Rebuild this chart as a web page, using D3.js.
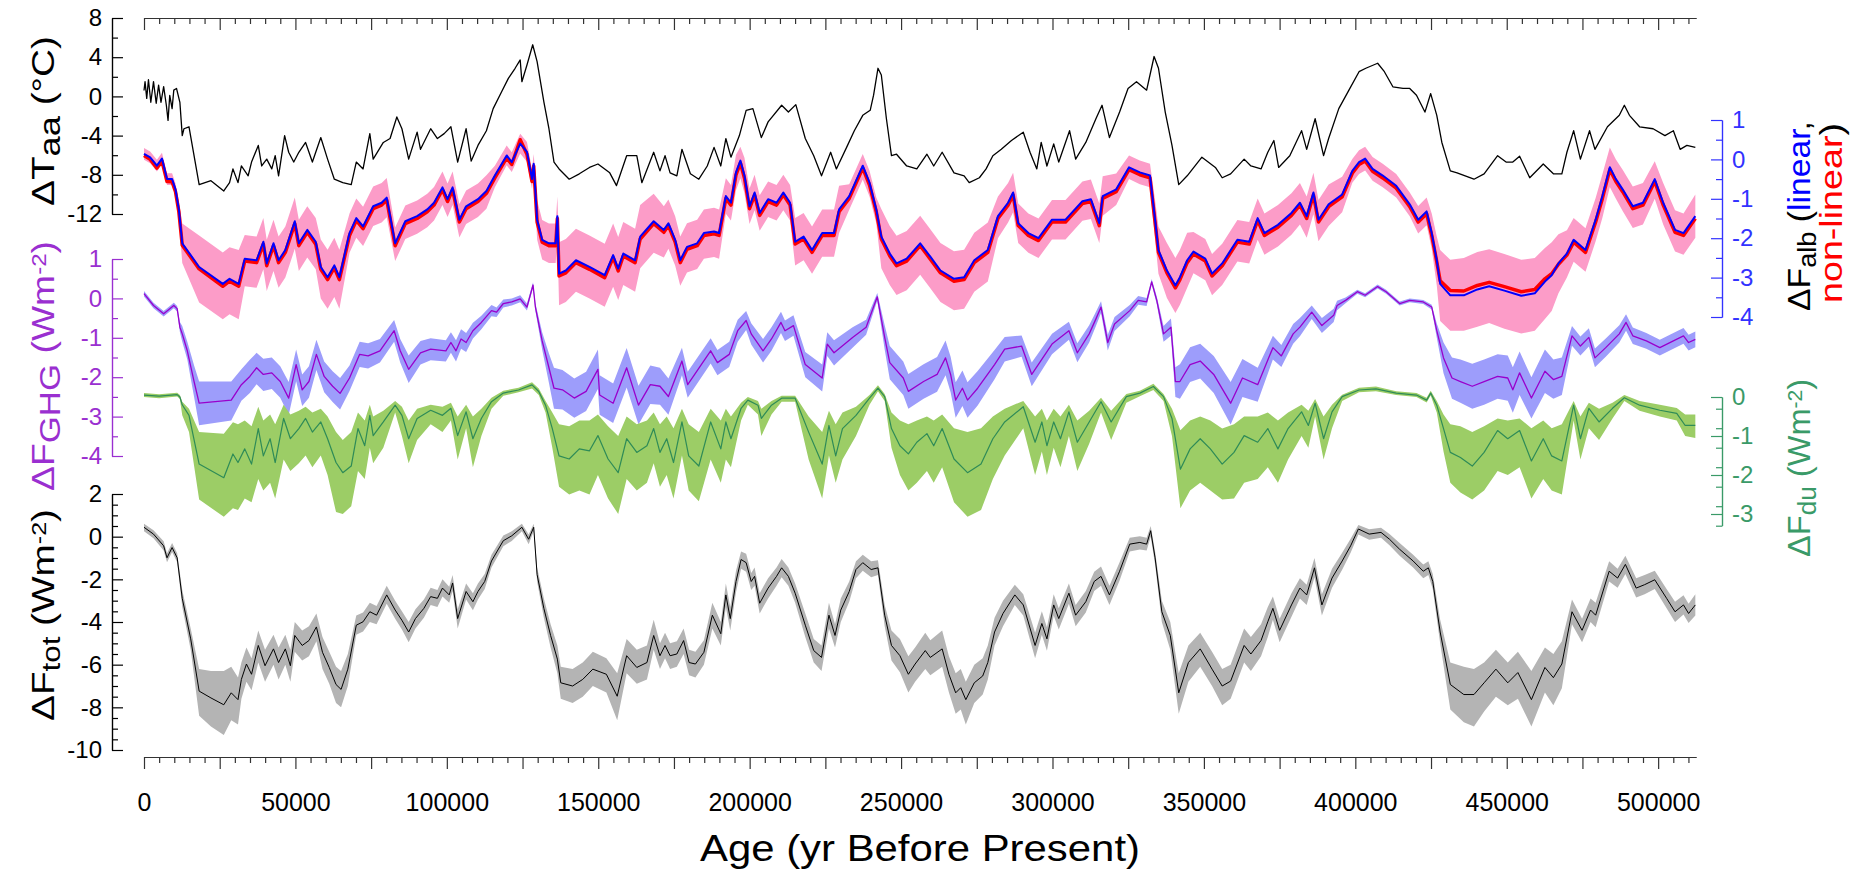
<!DOCTYPE html>
<html>
<head>
<meta charset="utf-8">
<script src="https://cdn.jsdelivr.net/npm/d3@7"></script>
<style>
  body { margin: 0; background: #fff; }
  svg { display: block; }
</style>
</head>
<body>
<svg id="chart" width="1862" height="870"></svg>
<script>
'use strict';

// Antarctic temperature anomaly (deg C), [age yr BP, value]
const tempAa = [
  [0,0.6],[350,1.5],[900,-0.2],[1470,1.7],[2250,-0.6],[3140,1.5],[4030,-0.7],[4820,1.15],[5600,-0.6],[6490,1.0],
  [7380,-0.9],[7940,-2.45],[8500,0.1],[9280,-1.25],[9840,0.64],[10730,0.81],[11850,-0.6],[12630,-4.0],[13190,-3.3],[14860,-3.1],
  [18210,-9.0],[22110,-8.6],[26350,-9.65],[28250,-8.8],[29370,-7.4],[31040,-8.8],[32160,-7.1],[34390,-8.1],[35510,-6.7],[37740,-5.0],
  [38860,-7.1],[40530,-6.4],[42200,-7.4],[43320,-6.05],[44440,-8.1],[46440,-4.0],[47780,-5.7],[49450,-6.7],[51130,-5.7],[53360,-4.7],
  [55600,-6.7],[58380,-4.2],[60620,-6.4],[62850,-8.45],[65640,-8.8],[68430,-9.0],[70100,-6.7],[72340,-7.4],[74570,-3.8],[75680,-6.4],
  [79030,-4.7],[81260,-4.3],[83490,-2.1],[85170,-3.3],[87400,-6.4],[90190,-3.65],[91310,-5.4],[94660,-3.3],[96890,-4.3],[99120,-3.8],
  [101350,-3.1],[103580,-6.7],[106370,-3.3],[108050,-6.6],[110280,-5.0],[113070,-3.5],[115300,-1.25],[118090,0.47],[120320,1.84],[122550,2.87],
  [124230,3.72],[124790,1.5],[126460,3.2],[128360,5.27],[129810,3.55],[132040,-0.56],[133720,-3.3],[135390,-6.7],[137070,-7.4],[140410,-8.45],
  [143760,-7.9],[147110,-7.25],[149900,-6.9],[153800,-7.8],[156030,-9.1],[159380,-6.05],[162730,-6.05],[164400,-8.8],[168300,-5.7],[170380,-7.6],
  [172060,-6.05],[173730,-7.8],[175960,-8.1],[177640,-5.4],[180430,-7.9],[183220,-8.45],[186000,-7.1],[188240,-5.2],[190470,-7.1],[192140,-4.3],
  [193820,-6.2],[196610,-4.0],[198840,-1.42],[201070,-1.25],[203860,-4.2],[206090,-2.6],[210560,-0.9],[212790,-1.6],[215240,-0.84],[218370,-4.3],
  [221160,-6.05],[223730,-8.1],[226740,-5.7],[228640,-7.4],[232320,-5.0],[234560,-3.5],[237350,-1.93],[239800,-1.42],[240920,0.12],[242370,2.87],
  [243480,2.18],[245160,-2.28],[246830,-6.05],[248500,-5.9],[251850,-7.1],[255200,-7.4],[258540,-5.9],[260780,-7.1],[263570,-5.7],[267480,-7.8],
  [270820,-8.1],[272500,-8.8],[275850,-8.3],[278080,-7.4],[280310,-6.05],[283100,-5.4],[286450,-4.5],[290350,-3.65],[292580,-5.7],[294820,-7.4],
  [296270,-4.7],[298160,-7.1],[300400,-4.85],[302070,-6.7],[305640,-3.5],[307650,-6.4],[311000,-4.7],[314340,-2.28],[316360,-0.9],[318810,-4.2],
  [322160,-1.6],[324950,0.81],[327740,1.5],[331090,0.64],[333550,4.07],[335000,2.87],[337230,-1.6],[339460,-5.0],[341690,-9.0],[344480,-8.1],
  [349340,-6.2],[353800,-7.25],[356040,-8.3],[358830,-7.9],[363290,-6.4],[365520,-7.1],[368870,-7.4],[371100,-5.7],[373110,-4.5],[374680,-7.25],
  [378360,-6.05],[382260,-3.5],[383940,-5.4],[386730,-2.28],[389520,-6.05],[391190,-4.3],[394540,-1.25],[397890,0.64],[401230,2.52],[403470,2.87],
  [407370,3.38],[409600,2.52],[412400,0.98],[415740,0.81],[417970,0.81],[420200,0.12],[422990,-1.6],[424890,0.29],[426900,-1.93],[428580,-4.7],
  [431370,-7.6],[433600,-7.8],[439180,-8.45],[442530,-7.9],[446990,-6.05],[449780,-6.7],[452010,-6.7],[454250,-6.1],[457590,-8.3],[462060,-6.9],
  [465410,-7.9],[468200,-7.9],[469870,-5.7],[472100,-3.5],[474330,-6.4],[477350,-3.5],[479130,-5.4],[483260,-3.1],[487170,-1.93],[488840,-0.9],
  [490520,-1.93],[493870,-3.1],[498330,-3.3],[502240,-4.0],[505030,-3.5],[507260,-5.4],[509490,-5.0],[512280,-5.2]
];

// Albedo forcing (W m-2): [age, linear, non-linear, band low, band high]
const fAlb = [
  [0,0.14,0.1,-0.01,0.29],[2030,0.05,0.0,-0.1,0.2],[4260,-0.16,-0.22,-0.31,-0.01],[5930,0.02,-0.04,-0.13,0.17],[7600,-0.5,-0.56,-0.65,-0.35],
  [9280,-0.5,-0.57,-0.65,-0.35],[10400,-0.76,-0.82,-0.91,-0.61],[11510,-1.27,-1.33,-1.5,-1.05],[12630,-2.13,-2.18,-2.63,-1.63],[18210,-2.73,-2.78,-3.63,-1.93],
  [26020,-3.16,-3.22,-4.06,-2.36],[28250,-3.03,-3.09,-3.93,-2.23],[31270,-3.16,-3.22,-4.06,-2.3],[33270,-2.52,-2.58,-3.22,-1.92],[37180,-2.56,-2.62,-3.26,-1.96],
  [39410,-2.09,-2.15,-2.79,-1.49],[40530,-2.64,-2.7,-3.34,-2.04],[42760,-2.13,-2.19,-2.83,-1.53],[44440,-2.56,-2.62,-3.26,-1.96],[46670,-2.3,-2.36,-3.0,-1.7],
  [49790,-1.57,-1.63,-2.27,-0.97],[51130,-2.13,-2.19,-2.83,-1.53],[53920,-1.79,-1.85,-2.49,-1.19],[56710,-2.09,-2.15,-2.79,-1.49],[58380,-2.73,-2.79,-3.53,-2.03],
  [60620,-2.99,-3.05,-3.79,-2.29],[62850,-2.69,-2.75,-3.49,-1.99],[64520,-2.99,-3.05,-3.79,-2.29],[67870,-1.87,-1.93,-2.37,-1.37],[70100,-1.49,-1.55,-1.99,-0.99],
  [72340,-1.7,-1.76,-2.2,-1.2],[75680,-1.19,-1.25,-1.69,-0.69],[78470,-1.1,-1.16,-1.6,-0.6],[80150,-0.97,-1.03,-1.47,-0.47],[82940,-2.13,-2.19,-2.58,-1.73],
  [86290,-1.57,-1.63,-2.02,-1.17],[90190,-1.44,-1.5,-1.89,-1.04],[93540,-1.27,-1.33,-1.72,-0.87],[95770,-1.1,-1.16,-1.55,-0.7],[98560,-0.71,-0.77,-1.16,-0.31],
  [100240,-1.01,-1.07,-1.46,-0.61],[101910,-0.71,-0.77,-1.16,-0.31],[104140,-1.53,-1.59,-1.98,-1.13],[106370,-1.19,-1.25,-1.64,-0.79],[110280,-1.01,-1.07,-1.46,-0.61],
  [113070,-0.8,-0.86,-1.25,-0.4],[115860,-0.41,-0.47,-0.71,-0.16],[119770,0.1,0.04,-0.15,0.35],[121440,-0.07,-0.13,-0.32,0.18],[124230,0.4,0.5,0.15,0.65],
  [126460,0.19,0.13,-0.06,0.44],[128130,-0.5,-0.56,-0.75,-0.25],[128690,-0.11,-0.17,-0.36,0.14],[129810,-1.53,-1.59,-2.03,-1.03],[131480,-2.04,-2.1,-2.54,-1.54],
  [133720,-2.13,-2.19,-2.63,-1.63],[135950,-2.13,-2.19,-2.63,-1.63],[136500,-1.44,-1.5,-1.94,-0.94],[137060,-2.9,-2.96,-3.7,-2.1],[139290,-2.82,-2.88,-3.62,-2.02],
  [142640,-2.56,-2.62,-3.36,-1.76],[147110,-2.73,-2.79,-3.53,-1.93],[152130,-2.94,-3.0,-3.74,-2.14],[154920,-2.43,-2.49,-3.23,-1.63],[156590,-2.77,-2.83,-3.57,-1.97],
  [158270,-2.39,-2.45,-3.19,-1.59],[162170,-2.56,-2.62,-3.36,-1.76],[163850,-1.96,-2.02,-2.76,-1.16],[168310,-1.57,-1.63,-2.37,-0.87],[171660,-1.79,-1.85,-2.49,-1.19],
  [173170,-1.62,-1.68,-2.27,-1.02],[175400,-2.04,-2.1,-2.69,-1.44],[177080,-2.56,-2.62,-3.21,-1.96],[179310,-2.22,-2.28,-2.87,-1.62],[182660,-2.13,-2.19,-2.78,-1.53],
  [184890,-1.87,-1.93,-2.52,-1.27],[188240,-1.83,-1.89,-2.48,-1.23],[189910,-1.87,-1.93,-2.52,-1.27],[192140,-0.93,-0.99,-1.38,-0.48],[193820,-1.1,-1.16,-1.55,-0.65],
  [195490,-0.33,-0.39,-0.78,0.12],[196940,-0.03,-0.09,-0.48,0.32],[198280,-0.41,-0.47,-0.86,0.04],[199960,-1.19,-1.25,-1.64,-0.74],[201630,-0.84,-0.9,-1.29,-0.39],
  [203310,-1.36,-1.42,-1.81,-0.91],[206090,-1.01,-1.07,-1.46,-0.56],[208880,-1.1,-1.16,-1.55,-0.65],[211120,-0.84,-0.9,-1.29,-0.39],[213350,-1.1,-1.16,-1.55,-0.65],
  [215020,-2.09,-2.15,-2.69,-1.49],[217810,-1.96,-2.02,-2.56,-1.36],[220600,-2.3,-2.36,-2.9,-1.7],[223950,-1.87,-1.93,-2.47,-1.27],[227860,-1.87,-1.93,-2.47,-1.27],
  [229530,-1.27,-1.33,-1.87,-0.67],[232880,-0.93,-0.99,-1.28,-0.63],[237350,-0.16,-0.22,-0.51,0.14],[239580,-0.59,-0.65,-0.94,-0.29],[241810,-1.27,-1.33,-1.62,-0.97],
  [243480,-1.96,-2.02,-2.76,-1.26],[246270,-2.39,-2.45,-3.19,-1.69],[248500,-2.64,-2.7,-3.44,-1.94],[251850,-2.52,-2.58,-3.32,-1.82],[256310,-2.13,-2.19,-2.93,-1.43],
  [259660,-2.47,-2.53,-3.27,-1.77],[263010,-2.82,-2.88,-3.62,-2.12],[267480,-3.03,-3.09,-3.83,-2.33],[270820,-2.99,-3.05,-3.79,-2.29],[274170,-2.56,-2.62,-3.36,-1.86],
  [278640,-2.3,-2.36,-3.1,-1.6],[281990,-1.44,-1.5,-2.0,-0.94],[285330,-1.1,-1.16,-1.6,-0.6],[287000,-0.84,-0.9,-1.34,-0.34],[288680,-1.62,-1.68,-2.12,-1.12],
  [292030,-1.87,-1.93,-2.37,-1.37],[295380,-2.0,-2.06,-2.5,-1.5],[299840,-1.53,-1.59,-2.03,-1.03],[304300,-1.53,-1.59,-2.03,-1.03],[309880,-1.06,-1.12,-1.56,-0.56],
  [312670,-1.01,-1.07,-1.51,-0.51],[315460,-1.62,-1.68,-2.12,-1.12],[316580,-0.93,-0.99,-1.43,-0.43],[321040,-0.76,-0.82,-1.16,-0.36],[325280,-0.2,-0.26,-0.5,0.1],
  [328850,-0.33,-0.39,-0.63,-0.03],[332200,-0.41,-0.47,-0.71,-0.11],[333870,-1.53,-1.59,-2.03,-1.03],[334990,-2.3,-2.36,-2.9,-1.7],[337790,-2.82,-2.88,-3.52,-2.12],
  [340580,-3.2,-3.26,-3.9,-2.5],[342090,-2.99,-3.05,-3.69,-2.29],[344480,-2.56,-2.62,-3.26,-1.86],[346550,-2.34,-2.4,-2.89,-1.84],[350460,-2.52,-2.58,-3.07,-2.02],
  [352690,-2.9,-2.96,-3.45,-2.4],[356040,-2.64,-2.7,-3.19,-2.14],[361060,-2.04,-2.1,-2.59,-1.54],[364960,-2.09,-2.15,-2.64,-1.59],[367760,-1.49,-1.55,-2.04,-0.99],
  [369990,-1.87,-1.93,-2.42,-1.37],[374450,-1.66,-1.72,-2.21,-1.16],[378910,-1.36,-1.42,-1.91,-0.86],[381710,-1.1,-1.16,-1.65,-0.6],[383940,-1.44,-1.5,-1.99,-0.94],
  [386170,-0.84,-0.9,-1.39,-0.34],[387840,-1.53,-1.59,-2.08,-1.03],[391190,-1.14,-1.2,-1.69,-0.64],[395660,-0.89,-0.95,-1.34,-0.44],[399010,-0.29,-0.35,-0.59,0.01],
  [401230,-0.07,-0.13,-0.37,0.23],[403240,0.02,-0.04,-0.28,0.32],[405700,-0.24,-0.3,-0.54,0.06],[409050,-0.41,-0.47,-0.71,-0.11],[413510,-0.67,-0.73,-0.97,-0.37],
  [417970,-1.14,-1.2,-1.44,-0.84],[420770,-1.53,-1.59,-1.88,-1.18],[423550,-1.32,-1.38,-1.67,-0.97],[425230,-1.87,-1.93,-2.27,-1.37],[426900,-2.56,-2.6,-3.2,-1.96],
  [428020,-3.16,-3.08,-4.1,-2.3],[431370,-3.45,-3.33,-4.35,-2.55],[435830,-3.45,-3.34,-4.35,-2.5],[440300,-3.3,-3.2,-4.25,-2.35],[444200,-3.22,-3.12,-4.15,-2.28],
  [449220,-3.33,-3.23,-4.3,-2.4],[454800,-3.46,-3.36,-4.42,-2.55],[459260,-3.4,-3.3,-4.35,-2.5],[462610,-3.1,-3.03,-4.05,-2.25],[464840,-2.94,-2.9,-3.85,-2.1],
  [467080,-2.64,-2.66,-3.4,-1.9],[469870,-2.39,-2.43,-3.0,-1.8],[472100,-2.04,-2.1,-2.6,-1.49],[476010,-2.3,-2.36,-2.85,-1.75],[479360,-1.53,-1.59,-2.08,-0.98],
  [481590,-0.93,-0.99,-1.48,-0.38],[484040,-0.2,-0.26,-0.7,0.3],[486050,-0.5,-0.56,-1.0,0.0],[488280,-0.76,-0.82,-1.31,-0.26],[491630,-1.19,-1.25,-1.74,-0.69],
  [494980,-1.1,-1.16,-1.65,-0.6],[498880,-0.5,-0.56,-1.0,-0.05],[501670,-1.1,-1.16,-1.65,-0.6],[505580,-1.79,-1.85,-2.34,-1.29],[508370,-1.87,-1.93,-2.42,-1.37],
  [512280,-1.44,-1.5,-1.99,-0.89]
];

// Greenhouse gas forcing (W m-2): [age, mean, low, high]
const fGhg = [
  [0,0.12,0.05,0.19],[3140,-0.18,-0.25,-0.11],[6490,-0.39,-0.46,-0.32],[9840,-0.18,-0.25,-0.11],[10950,-0.26,-0.33,-0.19],
  [11850,-0.73,-0.85,-0.6],[12630,-0.9,-1.1,-0.7],[14300,-1.33,-1.55,-1.1],[16540,-2.11,-2.5,-1.7],[18210,-2.66,-3.22,-2.11],
  [28810,-2.58,-3.1,-2.11],[32160,-2.19,-2.6,-1.8],[34950,-1.98,-2.4,-1.56],[37180,-1.76,-2.18,-1.38],[39410,-1.93,-2.35,-1.53],
  [42200,-1.89,-2.3,-1.5],[44990,-2.11,-2.52,-1.72],[47780,-2.53,-2.96,-2.12],[50240,-1.68,-2.1,-1.3],[52240,-2.32,-2.73,-1.93],
  [54470,-2.11,-2.52,-1.72],[56930,-1.42,-1.82,-1.05],[59500,-1.98,-2.38,-1.6],[62290,-2.23,-2.63,-1.85],[64750,-2.41,-2.82,-2.02],
  [67870,-2.02,-2.35,-1.7],[71220,-1.42,-1.74,-1.1],[74010,-1.46,-1.78,-1.14],[77910,-1.33,-1.63,-1.03],[82600,-0.82,-1.1,-0.55],
  [84610,-1.33,-1.63,-1.03],[87400,-1.8,-2.15,-1.45],[91310,-1.38,-1.68,-1.08],[94660,-1.29,-1.57,-1.01],[99680,-1.33,-1.6,-1.06],
  [101350,-1.12,-1.38,-0.86],[103030,-1.33,-1.6,-1.06],[104700,-1.03,-1.28,-0.78],[106370,-1.12,-1.36,-0.88],[108610,-0.82,-1.02,-0.62],
  [111400,-0.61,-0.78,-0.44],[114750,-0.31,-0.45,-0.17],[116420,-0.35,-0.47,-0.23],[118650,-0.13,-0.23,-0.03],[121440,-0.09,-0.18,0.0],
  [124230,-0.01,-0.1,0.08],[126460,-0.22,-0.31,-0.13],[128470,0.34,0.27,0.41],[129250,-0.22,-0.32,-0.12],[131480,-1.08,-1.3,-0.86],
  [133720,-1.76,-2.15,-1.4],[135390,-2.28,-2.8,-1.76],[138180,-2.32,-2.82,-1.82],[142090,-2.53,-3.03,-2.03],[145990,-2.36,-2.86,-1.86],
  [149900,-1.8,-2.3,-1.3],[150460,-2.45,-2.95,-1.95],[154920,-2.66,-3.16,-2.16],[159380,-1.76,-2.26,-1.26],[163290,-2.71,-3.2,-2.22],
  [167200,-2.19,-2.68,-1.7],[170380,-2.23,-2.7,-1.76],[173170,-2.49,-2.95,-2.03],[177640,-1.59,-1.95,-1.25],[179540,-2.19,-2.52,-1.86],
  [187120,-1.33,-1.65,-1.01],[189360,-1.63,-1.95,-1.31],[193260,-1.42,-1.74,-1.1],[196050,-0.82,-1.1,-0.54],[198840,-0.56,-0.8,-0.32],
  [200520,-0.9,-1.17,-0.63],[204420,-1.33,-1.63,-1.03],[207210,-1.03,-1.33,-0.73],[210340,-0.61,-0.88,-0.34],[211670,-0.82,-1.08,-0.56],
  [214460,-0.69,-0.95,-0.43],[218370,-1.68,-2.0,-1.36],[223950,-2.02,-2.36,-1.68],[225630,-1.16,-1.46,-0.86],[227860,-1.38,-1.7,-1.06],
  [233990,-0.99,-1.25,-0.73],[238460,-0.73,-0.92,-0.54],[242140,0.04,-0.06,0.14],[244590,-0.99,-1.3,-0.68],[246270,-1.63,-2.05,-1.21],
  [250730,-2.02,-2.45,-1.6],[252410,-2.36,-2.8,-1.92],[257430,-2.11,-2.55,-1.67],[261890,-1.93,-2.37,-1.49],[264680,-1.51,-1.95,-1.07],
  [266360,-1.93,-2.38,-1.48],[268030,-2.58,-3.03,-2.13],[270260,-2.28,-2.73,-1.83],[271940,-2.58,-3.03,-2.13],[275290,-2.28,-2.72,-1.84],
  [280870,-1.68,-2.05,-1.31],[284220,-1.29,-1.6,-0.98],[289800,-1.21,-1.48,-0.94],[293150,-1.93,-2.23,-1.63],[299840,-1.16,-1.42,-0.9],
  [305420,-0.82,-1.05,-0.59],[308210,-1.38,-1.62,-1.14],[312120,-0.9,-1.12,-0.68],[314350,-0.52,-0.7,-0.34],[316030,-0.22,-0.37,-0.07],
  [318260,-1.12,-1.32,-0.92],[320490,-0.65,-0.83,-0.47],[325510,-0.31,-0.45,-0.17],[328300,-0.05,-0.16,0.06],[331080,-0.09,-0.19,0.01],
  [332760,0.42,0.35,0.49],[334440,-0.05,-0.15,0.05],[336670,-0.9,-1.1,-0.7],[339120,-0.73,-0.95,-0.51],[340580,-2.11,-2.5,-1.75],
  [342090,-2.11,-2.55,-1.67],[345440,-1.68,-2.12,-1.24],[348780,-1.59,-2.03,-1.15],[353250,-1.93,-2.4,-1.46],[358830,-2.66,-3.2,-2.12],
  [362730,-2.02,-2.5,-1.54],[367760,-2.19,-2.62,-1.76],[372780,-1.25,-1.55,-0.95],[375570,-1.46,-1.74,-1.18],[379470,-0.9,-1.15,-0.65],
  [381710,-0.73,-0.96,-0.5],[385610,-0.35,-0.52,-0.18],[388960,-0.69,-0.88,-0.5],[392860,-0.43,-0.6,-0.26],[393980,-0.18,-0.3,-0.06],
  [396770,-0.05,-0.12,0.02],[400680,0.17,0.12,0.22],[403240,0.08,0.03,0.13],[407370,0.3,0.25,0.35],[410160,0.17,0.12,0.22],
  [414630,-0.13,-0.18,-0.08],[417970,-0.05,-0.1,0.0],[422440,-0.09,-0.14,-0.04],[425230,-0.22,-0.28,-0.16],[426900,-0.82,-1.0,-0.64],
  [429130,-1.51,-1.9,-1.12],[431930,-2.02,-2.55,-1.5],[434710,-2.11,-2.65,-1.55],[438620,-2.23,-2.8,-1.66],[442530,-2.11,-2.7,-1.55],
  [446990,-1.98,-2.55,-1.42],[450340,-2.02,-2.6,-1.45],[452010,-2.32,-2.9,-1.75],[454250,-1.89,-2.45,-1.35],[458150,-2.53,-3.05,-2.0],
  [462610,-1.85,-2.4,-1.3],[465400,-2.06,-2.55,-1.55],[468200,-1.98,-2.45,-1.5],[471550,-0.95,-1.2,-0.7],[474330,-1.21,-1.45,-0.97],
  [477120,-0.99,-1.22,-0.76],[479130,-1.51,-1.75,-1.27],[482700,-1.25,-1.48,-1.02],[487170,-0.9,-1.12,-0.68],[489400,-0.61,-0.82,-0.4],
  [491630,-0.95,-1.16,-0.74],[496100,-1.08,-1.28,-0.88],[500560,-1.25,-1.45,-1.05],[505030,-1.08,-1.28,-0.88],[508370,-0.95,-1.15,-0.75],
  [510050,-1.12,-1.32,-0.92],[512280,-1.04,-1.24,-0.84]
];

// Dust forcing (W m-2): [age, mean, low, high]
const fDu = [
  [0,0.05,0.0,0.1],[5000,0.02,-0.03,0.07],[10950,0.06,0.01,0.11],[11850,0.0,-0.05,0.05],[12630,-0.2,-0.47,-0.12],
  [14860,-0.47,-0.9,-0.3],[18210,-1.72,-2.63,-0.9],[26350,-2.07,-3.07,-0.94],[29370,-1.46,-2.85,-0.65],[31040,-1.68,-2.9,-0.7],
  [33270,-1.33,-2.6,-0.6],[35510,-1.72,-2.7,-0.75],[37740,-0.81,-2.1,-0.25],[39410,-1.51,-2.4,-0.6],[41640,-1.07,-2.2,-0.45],
  [43320,-1.68,-2.6,-0.7],[46110,-0.55,-1.6,-0.2],[48340,-1.07,-1.9,-0.45],[51130,-0.81,-1.7,-0.35],[53360,-0.55,-1.5,-0.25],
  [55600,-0.9,-1.8,-0.4],[58380,-0.64,-1.5,-0.3],[60620,-1.07,-2.0,-0.5],[63410,-1.68,-2.95,-0.9],[65640,-1.94,-3.0,-1.1],
  [68430,-1.77,-2.8,-0.9],[70660,-0.81,-1.9,-0.4],[72890,-1.25,-2.1,-0.6],[74570,-0.47,-1.3,-0.2],[75680,-0.99,-1.7,-0.5],
  [79030,-0.64,-1.3,-0.35],[82940,-0.21,-0.4,-0.1],[85170,-0.47,-1.0,-0.25],[87400,-1.07,-1.7,-0.6],[90190,-0.55,-1.1,-0.3],
  [94660,-0.34,-0.7,-0.2],[98560,-0.47,-0.9,-0.25],[101350,-0.29,-0.6,-0.15],[103580,-0.99,-1.6,-0.5],[106370,-0.38,-0.8,-0.2],
  [108610,-1.07,-1.8,-0.5],[111400,-0.55,-1.0,-0.3],[114750,-0.12,-0.3,-0.02],[118650,0.1,0.03,0.16],[123670,0.18,0.12,0.24],
  [128130,0.31,0.22,0.38],[130360,0.14,0.05,0.22],[132600,-0.21,-0.4,-0.1],[134830,-0.81,-1.3,-0.4],[137060,-1.51,-2.3,-0.7],
  [140410,-1.59,-2.5,-0.75],[143760,-1.33,-2.4,-0.6],[147110,-1.38,-2.5,-0.6],[149900,-0.99,-2.0,-0.45],[153240,-1.59,-2.6,-0.75],
  [156590,-1.94,-3.0,-1.0],[159380,-1.07,-2.1,-0.5],[162730,-1.42,-2.4,-0.7],[166080,-1.25,-2.2,-0.6],[168310,-0.81,-1.7,-0.4],
  [170380,-1.42,-2.3,-0.7],[172610,-1.07,-2.0,-0.5],[174850,-1.68,-2.6,-0.8],[177640,-0.64,-1.5,-0.3],[179870,-1.51,-2.4,-0.7],
  [183220,-1.77,-2.67,-0.9],[187120,-0.64,-1.6,-0.3],[190470,-1.33,-2.2,-0.6],[192140,-0.64,-1.6,-0.3],[193820,-1.07,-1.8,-0.5],
  [197170,-0.29,-0.6,-0.15],[199400,-0.08,-0.2,0.0],[202750,-0.21,-0.45,-0.1],[203860,-0.55,-1.0,-0.3],[207210,-0.21,-0.45,-0.1],
  [210560,-0.03,-0.12,0.03],[215020,-0.03,-0.12,0.03],[219480,-0.9,-1.6,-0.5],[223950,-1.72,-2.6,-0.9],[226180,-0.73,-1.5,-0.35],
  [228410,-1.51,-2.2,-0.7],[230650,-0.81,-1.6,-0.4],[235110,-0.47,-1.0,-0.25],[239580,-0.03,-0.2,0.05],[242370,0.23,0.15,0.3],
  [244590,0.01,-0.1,0.08],[246830,-0.81,-1.3,-0.4],[249620,-1.25,-2.0,-0.6],[252410,-1.46,-2.4,-0.7],[255200,-1.16,-2.2,-0.6],
  [258540,-0.94,-1.9,-0.5],[260780,-1.25,-2.2,-0.6],[263570,-0.81,-1.8,-0.45],[267480,-1.59,-2.7,-0.8],[271940,-1.94,-3.07,-0.9],
  [276400,-1.72,-2.9,-0.8],[280310,-1.07,-2.1,-0.5],[284220,-0.64,-1.5,-0.3],[290350,-0.25,-0.8,-0.1],[294260,-1.16,-2.0,-0.5],
  [296490,-0.64,-1.4,-0.3],[298160,-1.25,-2.0,-0.6],[300400,-0.64,-1.3,-0.3],[302630,-1.07,-1.8,-0.5],[305420,-0.38,-1.0,-0.2],
  [308210,-1.16,-1.9,-0.6],[312120,-0.64,-1.2,-0.35],[316030,-0.12,-0.4,-0.02],[319370,-0.64,-1.1,-0.35],[324390,0.01,-0.15,0.08],
  [328850,0.1,0.02,0.16],[333320,0.27,0.18,0.34],[336670,0.01,-0.1,0.08],[339460,-0.55,-1.0,-0.3],[342240,-1.85,-2.85,-0.85],
  [345440,-1.33,-2.4,-0.6],[348780,-1.07,-2.2,-0.5],[352130,-1.33,-2.4,-0.6],[356040,-1.72,-2.63,-0.81],[359940,-1.42,-2.6,-0.7],
  [363290,-0.99,-2.2,-0.5],[367760,-1.16,-2.1,-0.5],[371100,-0.81,-1.8,-0.4],[374450,-1.33,-2.2,-0.6],[377800,-0.81,-1.6,-0.4],
  [382260,-0.38,-1.0,-0.2],[384490,-0.73,-1.3,-0.35],[386730,-0.16,-0.5,-0.05],[389520,-1.07,-1.6,-0.5],[392310,-0.38,-0.8,-0.2],
  [395660,0.01,-0.1,0.06],[401230,0.18,0.12,0.24],[406820,0.21,0.15,0.27],[413510,0.1,0.05,0.15],[420200,0.05,0.0,0.1],
  [423550,-0.08,-0.14,-0.02],[424890,0.1,0.04,0.16],[426900,-0.21,-0.4,-0.1],[429130,-0.81,-1.4,-0.45],[431370,-1.42,-2.2,-0.7],
  [434710,-1.55,-2.45,-0.75],[438620,-1.77,-2.63,-0.9],[442530,-1.42,-2.4,-0.75],[446990,-0.86,-1.9,-0.55],[450340,-1.07,-2.0,-0.6],
  [454250,-0.86,-1.8,-0.55],[458150,-1.64,-2.6,-0.8],[462060,-1.07,-2.1,-0.6],[464840,-1.51,-2.4,-0.8],[468200,-1.64,-2.5,-0.7],
  [472100,-0.21,-0.6,-0.1],[474330,-1.07,-1.6,-0.5],[477120,-0.29,-0.8,-0.15],[480480,-0.64,-1.1,-0.3],[484930,-0.29,-0.55,-0.15],
  [488840,-0.02,-0.1,0.05],[493870,-0.21,-0.35,-0.1],[500560,-0.34,-0.5,-0.2],[506140,-0.42,-0.6,-0.28],[508930,-0.73,-1.0,-0.45],
  [512280,-0.73,-1.05,-0.45]
];

// Total forcing (W m-2): [age, mean, low, high]
const fTot = [
  [0,0.44,0.25,0.6],[3140,0.12,-0.08,0.3],[6490,-0.43,-0.65,-0.22],[7600,-0.99,-1.2,-0.78],[9280,-0.51,-0.72,-0.3],
  [10950,-0.99,-1.2,-0.78],[12630,-2.89,-3.3,-2.5],[15420,-4.79,-5.3,-4.3],[18210,-7.24,-8.4,-6.2],[22110,-7.56,-8.9,-6.3],
  [26350,-7.88,-9.3,-6.3],[28810,-7.32,-8.6,-6.1],[31040,-7.64,-8.8,-6.6],[32160,-6.69,-7.6,-5.9],[33830,-5.97,-6.8,-5.2],
  [35510,-6.45,-7.2,-5.7],[37740,-5.1,-5.9,-4.4],[39970,-6.05,-6.8,-5.3],[42760,-5.26,-6.0,-4.6],[44440,-5.9,-6.7,-5.2],
  [46670,-5.26,-6.0,-4.6],[48340,-6.05,-6.8,-5.3],[49790,-4.63,-5.4,-4.0],[52240,-5.1,-5.8,-4.4],[54470,-4.87,-5.6,-4.2],
  [56930,-4.23,-4.9,-3.6],[58940,-5.42,-6.2,-4.7],[61170,-6.13,-6.9,-5.4],[63410,-6.93,-7.8,-6.1],[65080,-7.16,-8.0,-6.3],
  [67310,-6.21,-7.0,-5.5],[70100,-4.15,-4.6,-3.7],[72340,-3.99,-4.45,-3.55],[74570,-3.52,-4.0,-3.1],[76800,-3.68,-4.1,-3.25],
  [80150,-2.73,-3.15,-2.3],[82940,-3.44,-3.85,-3.0],[85170,-3.92,-4.35,-3.5],[87400,-4.47,-4.95,-4.0],[89630,-3.84,-4.3,-3.4],
  [92420,-3.36,-3.8,-2.95],[94660,-2.81,-3.2,-2.4],[96890,-2.89,-3.3,-2.5],[98560,-2.41,-2.8,-2.0],[100790,-2.73,-3.1,-2.35],
  [101910,-2.17,-2.55,-1.8],[103580,-3.84,-4.3,-3.4],[106370,-2.57,-2.95,-2.2],[108610,-3.05,-3.45,-2.65],[110280,-2.57,-2.95,-2.2],
  [112510,-2.1,-2.45,-1.75],[114750,-1.14,-1.45,-0.85],[118650,-0.19,-0.45,0.05],[121440,0.04,-0.2,0.25],[124790,0.44,0.25,0.6],
  [127020,-0.12,-0.35,0.1],[128690,0.44,0.25,0.6],[129810,-1.78,-2.1,-1.45],[132040,-3.36,-3.8,-2.9],[134270,-4.63,-5.2,-4.1],
  [136500,-5.74,-6.4,-5.1],[137620,-6.85,-7.6,-6.1],[141530,-7.0,-7.8,-6.2],[144880,-6.69,-7.5,-5.9],[148220,-6.21,-7.0,-5.4],
  [152690,-6.45,-7.3,-5.7],[156260,-7.48,-8.6,-6.4],[159380,-5.58,-6.4,-4.8],[162730,-6.13,-6.9,-5.3],[166080,-5.9,-6.7,-5.1],
  [168310,-4.63,-5.3,-3.9],[170380,-5.58,-6.2,-5.0],[172060,-5.1,-5.7,-4.5],[173730,-5.58,-6.2,-5.0],[175960,-5.5,-6.1,-4.9],
  [178190,-4.87,-5.5,-4.3],[180000,-5.9,-6.5,-5.3],[182100,-5.97,-6.6,-5.4],[184890,-5.42,-6.0,-4.85],[187680,-3.68,-4.3,-3.1],
  [190470,-4.55,-5.1,-4.0],[192140,-2.73,-3.3,-2.2],[193600,-3.84,-4.4,-3.3],[195490,-2.1,-2.6,-1.6],[197170,-1.07,-1.5,-0.7],
  [198840,-1.22,-1.65,-0.8],[200520,-2.1,-2.5,-1.7],[201630,-1.86,-2.3,-1.45],[203310,-3.12,-3.6,-2.65],[206090,-2.41,-2.9,-1.95],
  [208880,-1.86,-2.3,-1.45],[210560,-1.46,-1.9,-1.05],[212790,-1.86,-2.3,-1.45],[215020,-2.65,-3.1,-2.2],[218370,-4.15,-4.7,-3.6],
  [221160,-5.34,-5.9,-4.8],[223730,-5.66,-6.3,-5.1],[226180,-3.68,-4.3,-3.1],[228190,-4.63,-5.2,-4.1],[230090,-3.44,-4.0,-2.9],
  [232880,-2.57,-3.05,-2.1],[235110,-1.54,-1.95,-1.15],[237350,-1.22,-1.6,-0.85],[240130,-1.54,-1.9,-1.15],[242370,-1.46,-1.8,-1.1],
  [244590,-3.68,-4.2,-3.2],[246830,-5.1,-5.8,-4.4],[249620,-5.58,-6.35,-4.8],[252410,-6.45,-7.3,-5.6],[254640,-5.97,-6.8,-5.2],
  [257990,-5.34,-6.2,-4.5],[259660,-5.66,-6.5,-4.85],[263570,-5.26,-6.1,-4.4],[265800,-6.45,-7.3,-5.6],[268030,-7.32,-8.3,-6.4],
  [269710,-7.08,-8.1,-6.2],[271380,-7.64,-8.8,-6.8],[274170,-6.85,-7.8,-6.0],[276960,-6.53,-7.4,-5.7],[278640,-5.9,-6.7,-5.1],
  [280870,-4.47,-5.1,-3.8],[283660,-3.6,-4.2,-3.0],[287560,-2.73,-3.2,-2.25],[290350,-3.2,-3.7,-2.7],[294260,-5.1,-5.7,-4.5],
  [296490,-4.07,-4.6,-3.5],[298160,-4.79,-5.35,-4.25],[300400,-3.2,-3.7,-2.7],[302070,-3.84,-4.35,-3.35],[305420,-2.65,-3.15,-2.2],
  [307650,-3.68,-4.2,-3.2],[311000,-3.05,-3.55,-2.55],[313780,-2.1,-2.55,-1.65],[316020,-1.86,-2.3,-1.4],[318810,-2.73,-3.2,-2.3],
  [322160,-1.62,-2.05,-1.2],[325510,-0.35,-0.7,-0.05],[328850,-0.27,-0.6,0.02],[331090,-0.35,-0.65,-0.05],[332430,0.28,0.0,0.5],
  [333880,-0.99,-1.3,-0.7],[336110,-3.52,-4.0,-3.0],[338900,-4.63,-5.3,-4.0],[341690,-7.32,-8.3,-6.4],[344880,-5.9,-6.8,-5.1],
  [348780,-5.26,-6.1,-4.5],[352690,-6.21,-7.0,-5.4],[356040,-7.0,-7.9,-6.2],[358830,-6.77,-7.6,-6.0],[363290,-5.1,-5.9,-4.3],
  [365520,-5.5,-6.3,-4.7],[368870,-4.87,-5.6,-4.1],[371100,-3.99,-4.7,-3.3],[372780,-3.36,-3.9,-2.8],[375010,-4.39,-4.95,-3.85],
  [378920,-3.2,-3.75,-2.65],[381710,-2.41,-2.9,-1.95],[383940,-2.73,-3.2,-2.25],[386510,-1.46,-1.9,-1.0],[388960,-3.2,-3.7,-2.7],
  [392310,-1.94,-2.4,-1.5],[395660,-1.14,-1.55,-0.75],[398450,-0.43,-0.75,-0.1],[401010,0.36,0.1,0.55],[404580,0.12,-0.15,0.35],
  [408490,0.2,-0.05,0.42],[411280,-0.12,-0.4,0.12],[414630,-0.59,-0.9,-0.3],[419090,-1.14,-1.45,-0.85],[422440,-1.62,-1.95,-1.3],
  [424120,-1.46,-1.8,-1.15],[425570,-2.1,-2.45,-1.75],[428020,-4.47,-5.0,-3.9],[431370,-6.93,-8.1,-5.9],[435830,-7.4,-8.7,-6.1],
  [439180,-7.4,-8.9,-6.2],[442530,-6.85,-8.2,-5.9],[446430,-6.21,-7.5,-5.3],[450340,-6.85,-7.9,-5.9],[453690,-6.37,-7.6,-5.4],
  [458150,-7.64,-8.9,-6.3],[462610,-6.13,-7.3,-5.2],[465400,-6.61,-7.9,-5.5],[468200,-5.97,-7.1,-4.9],[471550,-3.52,-4.1,-2.95],
  [474880,-4.39,-4.95,-3.85],[477680,-3.44,-4.0,-2.9],[479360,-3.68,-4.25,-3.1],[483820,-1.62,-2.1,-1.15],[486610,-1.94,-2.4,-1.5],
  [489180,-1.3,-1.75,-0.9],[492750,-2.41,-2.85,-1.95],[495540,-2.25,-2.7,-1.8],[498880,-2.02,-2.45,-1.6],[502790,-2.89,-3.35,-2.45],
  [505580,-3.52,-4.0,-3.05],[508370,-3.2,-3.65,-2.75],[510050,-3.6,-4.05,-3.15],[512280,-3.2,-3.7,-2.7]
];

// axis ticks
const tempTicks = [8, 4, 0, -4, -8, -12];
const albTicks = [1, 0, -1, -2, -3, -4];
const ghgTicks = [1, 0, -1, -2, -3, -4];
const duTicks = [0, -1, -2, -3];
const totTicks = [2, 0, -2, -4, -6, -8, -10];
const ageMajor = d3.range(0, 512501, 25000);
const ageMinor = d3.range(0, 512501, 5000);

const FONT = '"Liberation Sans", Arial, Helvetica, sans-serif';
const PURPLE = '#9a2fd0';
const BLUE = '#3232ff';
const GREEN = '#3a9a68';

const svg = d3.select('#chart').attr('font-family', FONT);

const x = d3.scaleLinear().domain([0, 512500]).range([144, 1696]);
const yTemp = d3.scaleLinear().domain([8, -12]).range([18, 214]);
const yAlb = d3.scaleLinear().domain([1, -4]).range([120, 317]);
const yGhg = d3.scaleLinear().domain([1, -4]).range([259, 456]);
const yDu = d3.scaleLinear().domain([0, -3.3]).range([397, 525.7]);
const yTot = d3.scaleLinear().domain([2, -10]).range([494, 750]);

function band(data, y, lo, hi, fill) {
  const area = d3.area()
    .x(d => x(d[0]))
    .y0(d => y(d[lo]))
    .y1(d => y(d[hi]));
  svg.append('path').datum(data)
    .attr('d', area)
    .attr('fill', fill);
}

function trace(data, y, i, color, width) {
  const line = d3.line()
    .x(d => x(d[0]))
    .y(d => y(d[i]));
  svg.append('path').datum(data)
    .attr('d', line)
    .attr('fill', 'none')
    .attr('stroke', color)
    .attr('stroke-width', width)
    .attr('stroke-linejoin', 'round');
}

// bands first, then the lines on top
band(fAlb, yAlb, 3, 4, '#fc9cc8');
band(fGhg, yGhg, 2, 3, '#9d9dfb');
band(fDu, yDu, 2, 3, '#9ccd66');
band(fTot, yTot, 2, 3, '#b4b4b4');

trace(fAlb, yAlb, 2, '#ff0000', 3.5);
trace(fAlb, yAlb, 1, '#0000ff', 2);
trace(tempAa, yTemp, 1, '#000', 1.3);
trace(fGhg, yGhg, 1, '#9900cc', 1.3);
trace(fDu, yDu, 1, '#2e8b57', 1.2);
trace(fTot, yTot, 1, '#000', 1);

// value axes: major and minor ticks point into the plot
function valueAxis(scale, xPos, major, minorStep, color, side) {
  const make = side === 'left' ? d3.axisLeft : d3.axisRight;
  const [a, b] = scale.domain();
  const minor = d3.range(Math.min(a, b), Math.max(a, b) + 1e-9, minorStep)
    .filter(v => !major.includes(+v.toFixed(3)));
  const gMinor = svg.append('g').attr('transform', `translate(${xPos},0)`)
    .call(make(scale).tickValues(minor).tickSize(-6).tickSizeOuter(0).tickFormat(''));
  const gMajor = svg.append('g').attr('transform', `translate(${xPos},0)`)
    .call(make(scale).tickValues(major).tickSize(-11).tickSizeOuter(0)
      .tickPadding(10).tickFormat(d => String(d)));
  [gMinor, gMajor].forEach(g => {
    g.selectAll('path, line').attr('stroke', color).attr('stroke-width', 1.2);
    g.selectAll('text').attr('fill', color)
      .attr('font-size', 24).attr('font-family', FONT);
  });
}

valueAxis(yTemp, 112, tempTicks, 2, '#000', 'left');
valueAxis(yGhg, 112, ghgTicks, 0.5, PURPLE, 'left');
valueAxis(yTot, 112, totTicks, 0.5, '#000', 'left');
valueAxis(yAlb, 1722, albTicks, 0.5, BLUE, 'right');
valueAxis(yDu, 1722, duTicks, 0.5, GREEN, 'right');

// age axes, top (no labels) and bottom
function ageAxis(yPos, make, size, labels) {
  const minor = ageMinor.filter(v => v % 25000 !== 0);
  const gMinor = svg.append('g').attr('transform', `translate(0,${yPos})`)
    .call(make(x).tickValues(minor).tickSize(size / 2).tickSizeOuter(0).tickFormat(''));
  const gMajor = svg.append('g').attr('transform', `translate(0,${yPos})`)
    .call(make(x).tickValues(ageMajor).tickSize(size).tickSizeOuter(0).tickPadding(24)
      .tickFormat(d => (labels && d % 50000 === 0) ? String(d) : ''));
  [gMinor, gMajor].forEach(g => {
    g.selectAll('path, line').attr('stroke', '#333').attr('stroke-width', 1.2);
    g.selectAll('text').attr('fill', '#000')
      .attr('font-size', 25).attr('font-family', FONT);
  });
}
ageAxis(18, d3.axisTop, -12, false);
ageAxis(757, d3.axisBottom, 12, true);

svg.append('text')
  .attr('x', 920).attr('y', 861)
  .attr('text-anchor', 'middle')
  .attr('font-size', 36)
  .attr('textLength', 440)
  .attr('lengthAdjust', 'spacingAndGlyphs')
  .text('Age (yr Before Present)');

// rotated axis titles, stretched along their length like the original
function vTitle(xPos, yPos, len, color, parts) {
  const t = svg.append('text')
    .attr('transform', `translate(${xPos},${yPos}) rotate(-90)`)
    .attr('x', -len / 2)
    .attr('font-size', 31)
    .attr('fill', color)
    .attr('textLength', len)
    .attr('lengthAdjust', 'spacingAndGlyphs');
  parts.forEach(p => {
    const s = t.append('tspan').text(p.t);
    if (p.sub) s.attr('baseline-shift', '-22%').attr('font-size', p.big ? 29 : 25);
    if (p.sup) s.attr('baseline-shift', '38%').attr('font-size', 20);
    if (p.c) s.attr('fill', p.c);
  });
}

vTitle(54, 121, 170, '#000', [{t: 'ΔT'}, {t: 'aa', sub: true, big: true}, {t: ' (°C)'}]);
vTitle(54, 366, 250, PURPLE, [{t: 'ΔF'}, {t: 'GHG', sub: true, big: true}, {t: ' (Wm'}, {t: '-2', sup: true}, {t: ')'}]);
vTitle(54, 615, 212, '#000', [{t: 'ΔF'}, {t: 'tot', sub: true}, {t: ' (Wm'}, {t: '-2', sup: true}, {t: ')'}]);
vTitle(1810, 216, 190, '#000', [{t: 'ΔF'}, {t: 'alb', sub: true}, {t: ' ('}, {t: 'linear', c: '#0000ff'}, {t: ','}]);
vTitle(1842, 213, 180, '#000', [{t: 'non-linear', c: '#ff0000'}, {t: ')'}]);
vTitle(1810, 468, 178, GREEN, [{t: 'ΔF'}, {t: 'du', sub: true}, {t: ' (Wm'}, {t: '-2', sup: true}, {t: ')'}]);
</script>
</body>
</html>
